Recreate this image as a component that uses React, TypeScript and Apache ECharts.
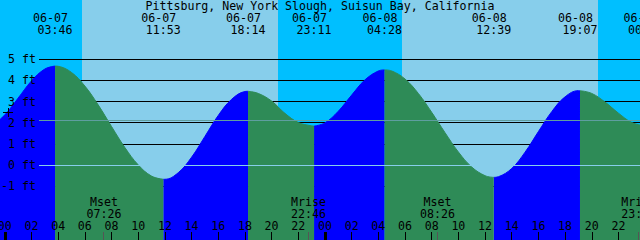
import { useEffect, useRef } from 'react';
import * as echarts from 'echarts';

const TITLE = 'Pittsburg, New York Slough, Suisun Bay, California';

// x: hours since 06-07 00:00, y: feet
const X_MIN = -0.36;
const X_MAX = 47.616;
const Y_MIN = -3.524;
const Y_MAX = 7.797;

const TIDE_T = [
  -1.67, -1, 0, 1, 2, 3, 3.767, 4, 5, 6, 7, 8, 9, 10, 11, 11.883, 12, 13, 14, 15, 16, 17, 18, 18.233,
  19, 20, 21, 22, 23, 23.183, 24, 25, 26, 27, 28, 28.467, 29, 30, 31, 32, 33, 34, 35, 36, 36.65,
  37, 38, 39, 40, 41, 42, 43, 43.117, 44, 45, 46, 47, 48.02,
];
const TIDE_H = [
  1.75, 1.86, 2.38, 3.17, 3.98, 4.54, 4.68, 4.67, 4.38, 3.74, 2.85, 1.83, 0.84, 0.02, -0.51, -0.66, -0.66, -0.35, 0.38, 1.36, 2.35, 3.11, 3.48, 3.49,
  3.39, 3.03, 2.45, 2.02, 1.86, 1.85, 2.0, 2.55, 3.31, 4.03, 4.45, 4.5, 4.45, 4.07, 3.39, 2.5, 1.54, 0.63, -0.08, -0.49, -0.57,
  -0.54, -0.15, 0.62, 1.59, 2.53, 3.23, 3.52, 3.52, 3.39, 2.98, 2.46, 2.02, 1.85,
];

const EXT_T = [-1.67, 3.767, 11.883, 18.233, 23.183, 28.467, 36.65, 43.117, 48.02];
const EXT_H = [1.75, 4.68, -0.66, 3.49, 1.85, 4.5, -0.57, 3.52, 1.85];
const EXT_DATE = ['06-06', '06-07', '06-07', '06-07', '06-07', '06-08', '06-08', '06-08', '06-09'];
const EXT_TIME = ['22:20', '03:46', '11:53', '18:14', '23:11', '04:28', '12:39', '19:07', '00:01'];

const SUNRISE = [5.78, 29.77];
const SUNSET = [20.5, 44.5];

const MOON_T = [7.433, 22.767, 32.433, 47.517];
const MOON_EVENT = ['Mset', 'Mrise', 'Mset', 'Mrise'];
const MOON_TIME = ['07:26', '22:46', '08:26', '23:31'];

const HOUR_TICKS = [0, 2, 4, 6, 8, 10, 12, 14, 16, 18, 20, 22, 24, 26, 28, 30, 32, 34, 36, 38, 40, 42, 44, 46];
const MIDNIGHTS = [0, 24];
const FT_LEVELS = [-1, 0, 1, 2, 3, 4, 5];
const DATUM = 0;
const MSL = 2.12;

const NIGHT = '#00BFFF';
const DAY = '#87CEEB';
const RISE = '#0000FF';
const FALL = '#2E8B57';
const DATUM_COLOR = '#87CEEB';
const MSL_COLOR = '#5F9EA0';
const FONT_FAMILY = '"DejaVu Sans Mono", monospace';
const FONT_SIZE = 11.6;
const FONT = `${FONT_SIZE}px ${FONT_FAMILY}`;

function segmentOf(t: number, rising: boolean): boolean {
  for (let k = 0; k < EXT_T.length - 1; k++) {
    const up = EXT_H[k + 1] > EXT_H[k];
    if (up === rising && t >= EXT_T[k] && t <= EXT_T[k + 1]) return true;
  }
  return false;
}

function hourLabel(v: number): string {
  const h = ((Math.round(v) % 24) + 24) % 24;
  return String(h).padStart(2, '0');
}

const crisp = (v: number) => Math.round(v - 0.5) + 0.5;

export default function App() {
  const ref = useRef<HTMLDivElement>(null);

  useEffect(() => {
    if (!ref.current) return;
    const chart = echarts.init(ref.current, undefined, { renderer: 'svg' });

    const risingData = TIDE_T.map((t, i) => [t, segmentOf(t, true) ? TIDE_H[i] : '-']);
    const fallingData = TIDE_T.map((t, i) => [t, segmentOf(t, false) ? TIDE_H[i] : '-']);

    const bgData: number[][] = [[X_MIN - 1, X_MAX + 1, 0]];
    SUNRISE.forEach((s, i) => bgData.push([s, SUNSET[i], 1]));

    const tideLabelData = EXT_T.map((t, i) => [t, i]).filter((d) => d[0] > X_MIN);
    const moonData = MOON_T.map((t, i) => [t, i]);

    const option: any = {
      animation: false,
      grid: { left: 0, right: 0, top: 0, bottom: 0, containLabel: false, outerBoundsMode: 'none' },
      xAxis: {
        type: 'value',
        min: X_MIN,
        max: X_MAX,
        z: 5,
        axisLine: { show: false, onZero: false },
        splitLine: { show: false },
        axisTick: {
          show: true,
          inside: true,
          length: 8,
          customValues: HOUR_TICKS,
          lineStyle: { color: '#000', width: 1 },
        },
        axisLabel: {
          inside: true,
          customValues: HOUR_TICKS,
          formatter: hourLabel,
          margin: 14,
          verticalAlign: 'middle',
          color: '#000',
          fontFamily: FONT_FAMILY,
          fontSize: FONT_SIZE,
          hideOverlap: false,
        },
      },
      yAxis: {
        type: 'value',
        min: Y_MIN,
        max: Y_MAX,
        position: 'left',
        offset: -39,
        z: 5,
        axisLine: { show: false, onZero: false },
        axisTick: { show: false },
        splitLine: { show: false },
        axisLabel: {
          customValues: FT_LEVELS,
          formatter: (v: number) => `${v} ft`,
          margin: 3,
          verticalAlign: 'middle',
          color: '#000',
          fontFamily: FONT_FAMILY,
          fontSize: FONT_SIZE,
        },
      },
      graphic: [
        {
          type: 'text',
          x: 320,
          y: 5.5,
          z: 20,
          style: { text: TITLE, font: FONT, fill: '#000', align: 'center', verticalAlign: 'middle' },
        },
        { type: 'line', z: 20, shape: { x1: 3, y1: 112.5, x2: 13, y2: 112.5 }, style: { stroke: '#000', lineWidth: 1 } },
        { type: 'line', z: 20, shape: { x1: 8.5, y1: 108, x2: 8.5, y2: 117 }, style: { stroke: '#000', lineWidth: 1 } },
      ],
      series: [
        {
          type: 'custom',
          z: 1,
          silent: true,
          data: bgData,
          renderItem: (_p: any, api: any) => {
            const p0 = api.coord([api.value(0), Y_MAX]);
            const p1 = api.coord([api.value(1), Y_MIN]);
            const x0 = Math.round(p0[0]);
            const x1 = Math.round(p1[0]);
            return {
              type: 'rect',
              shape: { x: x0, y: 0, width: x1 - x0, height: 240 },
              style: { fill: api.value(2) ? DAY : NIGHT },
            };
          },
        },
        {
          type: 'custom',
          z: 2,
          silent: true,
          data: FT_LEVELS.map((v) => [X_MIN, v]),
          renderItem: (_p: any, api: any) => {
            const y = crisp(api.coord([X_MIN, api.value(1)])[1]);
            return {
              type: 'line',
              shape: { x1: 39, y1: y, x2: 640, y2: y },
              style: { stroke: '#000', lineWidth: 1 },
            };
          },
        },
        {
          type: 'line',
          z: 3,
          data: risingData,
          smooth: 0.4,
          showSymbol: false,
          connectNulls: false,
          lineStyle: { color: RISE, width: 1 },
          itemStyle: { color: RISE },
          areaStyle: { color: RISE, opacity: 1, origin: 'start' },
        },
        {
          type: 'line',
          z: 3,
          data: fallingData,
          smooth: 0.4,
          showSymbol: false,
          connectNulls: false,
          lineStyle: { color: FALL, width: 1 },
          itemStyle: { color: FALL },
          areaStyle: { color: FALL, opacity: 1, origin: 'start' },
        },
        {
          type: 'custom',
          z: 4,
          silent: true,
          data: [
            [X_MIN, DATUM, 0],
            [X_MIN, MSL, 1],
          ],
          renderItem: (_p: any, api: any) => {
            const y = crisp(api.coord([X_MIN, api.value(1)])[1]);
            return {
              type: 'line',
              shape: { x1: 39, y1: y, x2: 640, y2: y },
              style: { stroke: api.value(2) ? MSL_COLOR : DATUM_COLOR, lineWidth: 1 },
            };
          },
        },
        {
          type: 'custom',
          z: 6,
          silent: true,
          data: MIDNIGHTS.map((t) => [t, 0]),
          renderItem: (_p: any, api: any) => {
            const x = api.coord([api.value(0), 0])[0];
            return {
              type: 'rect',
              shape: { x: Math.round(x) - 1, y: 232, width: 3, height: 8 },
              style: { fill: '#000' },
            };
          },
        },
        {
          type: 'custom',
          z: 6,
          silent: true,
          data: moonData,
          renderItem: (_p: any, api: any) => {
            const i = api.value(1);
            const x = api.coord([api.value(0), 0])[0];
            return {
              type: 'group',
              children: [
                {
                  type: 'line',
                  shape: { x1: crisp(x), y1: 232, x2: crisp(x), y2: 240 },
                  style: { stroke: '#555', lineWidth: 1 },
                },
                {
                  type: 'text',
                  x,
                  y: 207.6,
                  style: {
                    text: `${MOON_EVENT[i]}\n${MOON_TIME[i]}`,
                    font: FONT,
                    fill: '#000',
                    align: 'center',
                    verticalAlign: 'middle',
                    lineHeight: 11.8,
                  },
                },
              ],
            };
          },
        },
        {
          type: 'custom',
          z: 6,
          silent: true,
          data: tideLabelData,
          renderItem: (_p: any, api: any) => {
            const i = api.value(1);
            const x = api.coord([api.value(0), 0])[0];
            return {
              type: 'text',
              x,
              y: 23.5,
              style: {
                text: `{d|${EXT_DATE[i]}}\n{t|${EXT_TIME[i]}}`,
                font: FONT,
                fill: '#000',
                align: 'center',
                verticalAlign: 'middle',
                lineHeight: 12,
                rich: {
                  d: { font: FONT, fill: '#000', lineHeight: 12, padding: [0, 9, 0, 0] },
                  t: { font: FONT, fill: '#000', lineHeight: 12 },
                },
              },
            };
          },
        },
      ],
    };

    chart.setOption(option);
    return () => chart.dispose();
  }, []);

  return <div ref={ref} style={{ position: 'absolute', left: 0, top: 0, width: 640, height: 240 }} />;
}
